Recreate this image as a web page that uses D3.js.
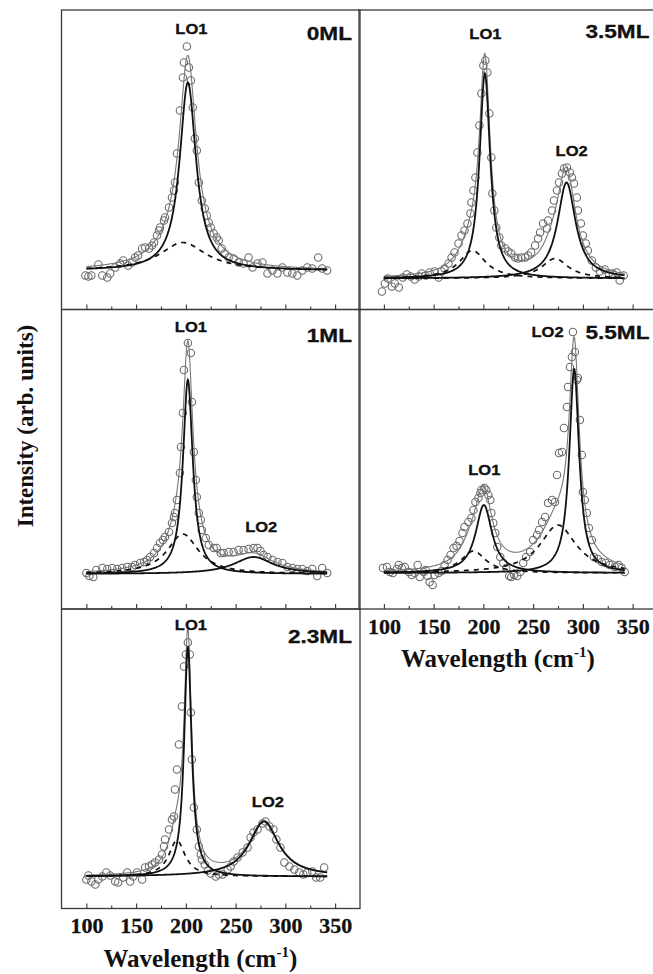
<!DOCTYPE html>
<html>
<head>
<meta charset="utf-8">
<script src="https://cdn.jsdelivr.net/npm/d3@7"></script>
<style>
  body { margin: 0; background: #fff; }
  svg { display: block; }
</style>
</head>
<body>
<div id="chart"></div>
<script>
// x axis ticks (cm-1)
const majorTicks = [100, 150, 200, 250, 300, 350];
const minorTicks = [125, 175, 225, 275, 325];

const samples = ["0ML", "1ML", "2.3ML", "3.5ML", "5.5ML"];

// measured Raman points, [wavenumber, intensity]
const pts0ML = [[99,34],[102,33],[105,34],[112,45],[116,34],[121,32],[124,36],[129,42],[134,46],[137,49],[142,44],[146,47],[149,52],[152,54],[156,61],[159,62],[163,61],[166,64],[168,67],[171,74],[173,79],[174,82],[178,89],[179,92],[183,102],[186,112],[188,119],[189,127],[191,156],[194,199],[197,232],[198,247],[201,263],[203,242],[205,229],[207,202],[209,171],[211,159],[213,127],[216,109],[219,101],[221,94],[223,87],[225,82],[228,76],[231,72],[233,69],[236,61],[239,56],[243,52],[248,51],[253,47],[258,46],[263,52],[267,42],[272,46],[277,47],[282,36],[287,39],[292,36],[297,42],[302,37],[307,36],[312,34],[317,39],[322,42],[327,41],[333,52],[337,41],[342,39]];

const pts1ML = [[100,36],[103,33],[107,32],[110,39],[116,41],[121,40],[126,41],[131,40],[136,41],[141,42],[146,42],[149,44],[154,46],[158,47],[161,49],[164,52],[168,56],[171,61],[174,66],[177,69],[179,72],[183,77],[186,86],[188,92],[189,96],[191,109],[194,136],[195,162],[197,196],[198,239],[202,266],[205,256],[206,207],[208,157],[210,129],[211,112],[213,96],[215,89],[216,79],[220,71],[223,64],[228,61],[231,61],[235,56],[238,56],[243,57],[248,57],[253,59],[258,59],[263,60],[268,61],[272,61],[275,58],[278,54],[282,52],[287,49],[292,47],[297,46],[302,42],[307,41],[312,40],[317,40],[322,38],[327,40],[332,33],[337,41],[342,36]];

const pts2_3ML = [[100,29],[102,33],[105,27],[109,24],[112,29],[116,32],[120,36],[124,33],[129,27],[132,26],[137,31],[141,36],[144,27],[147,32],[151,36],[156,29],[159,41],[163,42],[166,44],[169,46],[173,49],[176,54],[178,62],[179,69],[183,79],[186,89],[188,92],[189,119],[191,139],[193,164],[196,202],[198,242],[200,254],[202,266],[204,254],[205,196],[206,149],[208,101],[211,79],[213,62],[215,54],[216,49],[219,44],[222,38],[225,35],[230,32],[233,34],[237,34],[242,39],[245,42],[248,47],[252,51],[257,56],[262,61],[265,71],[268,76],[272,79],[277,85],[280,87],[284,82],[288,79],[291,69],[295,61],[299,46],[304,42],[309,39],[314,36],[318,34],[322,36],[327,37],[331,31],[335,31],[339,41]];

const pts3_5ML = [[98,18],[101,26],[104,31],[108,23],[111,26],[115,22],[119,32],[123,35],[127,33],[131,30],[135,33],[138,36],[142,34],[146,37],[151,38],[155,32],[158,38],[161,41],[165,46],[168,52],[171,57],[175,66],[178,74],[181,79],[184,86],[187,96],[188,107],[190,119],[192,132],[194,157],[196,184],[198,216],[200,244],[202,249],[204,237],[206,196],[208,152],[209,116],[211,99],[213,82],[216,72],[218,64],[222,61],[225,58],[228,56],[232,52],[235,51],[238,52],[242,52],[245,54],[248,57],[252,64],[255,71],[257,77],[260,86],[264,81],[265,89],[269,99],[271,109],[274,119],[276,127],[279,136],[281,141],[284,142],[287,137],[289,132],[291,126],[294,112],[295,99],[298,86],[300,74],[303,66],[305,59],[309,49],[313,42],[317,38],[322,40],[326,36],[330,36],[334,37],[337,29],[341,34]];

const pts5_5ML = [[99,41],[103,42],[106,37],[109,36],[113,40],[115,44],[118,41],[121,42],[125,37],[128,34],[131,36],[134,44],[136,32],[140,37],[142,39],[144,33],[146,27],[149,24],[151,34],[155,36],[158,38],[161,44],[164,49],[167,54],[170,61],[173,63],[176,68],[179,76],[181,82],[185,87],[188,91],[190,99],[192,107],[195,111],[197,116],[198,119],[201,121],[203,119],[205,114],[207,109],[208,96],[210,86],[212,76],[214,62],[217,52],[220,46],[223,41],[226,33],[228,32],[231,34],[234,33],[237,37],[240,46],[243,52],[247,57],[250,69],[254,74],[256,79],[259,87],[262,92],[265,106],[269,109],[272,107],[274,134],[276,156],[279,157],[281,181],[284,202],[285,222],[287,242],[289,252],[290,277],[292,257],[294,229],[295,231],[297,189],[299,154],[300,117],[302,109],[304,96],[306,81],[309,69],[311,52],[315,50],[319,47],[323,46],[327,44],[332,42],[336,44],[339,41],[342,37]];

// fitted peaks: [centre, half width, height above base]
const base0ML = 39, lo0ML = [[202, 10, 188]], so0ML = [[197, 28, 28]];
const base1ML = 35, lo1ML = [[202, 6, 194], [268, 24, 17]], so1ML = [[197, 19, 40]];
const base2_3ML = 32, lo2_3ML = [[202, 4.5, 230], [278.5, 18, 55]], so2_3ML = [[191, 10, 36]];
const base3_5ML = 31, lo3_5ML = [[201.5, 6.5, 205], [283.6, 11, 96]], so3_5ML = [[189, 16, 28], [272, 16, 20]];
const base5_5ML = 36, lo5_5ML = [[200.5, 10, 68], [291.3, 6, 204]], so5_5ML = [[190, 15, 22], [275, 22, 48]];

// peak names [text, wavenumber, intensity]
const names0ML = [["LO1", 205.5, 276]];
const names1ML = [["LO1", 205, 277], ["LO2", 275.7, 77]];
const names2_3ML = [["LO1", 205, 279], ["LO2", 282.4, 102]];
const names3_5ML = [["LO1", 202, 271], ["LO2", 288.7, 154]];
const names5_5ML = [["LO1", 200.9, 134], ["LO2", 264.5, 272]];

const panels = [
  { name: "0ML", pts: pts0ML, base: base0ML, lo: lo0ML, so: so0ML, names: names0ML },
  { name: "1ML", pts: pts1ML, base: base1ML, lo: lo1ML, so: so1ML, names: names1ML },
  { name: "2.3ML", pts: pts2_3ML, base: base2_3ML, lo: lo2_3ML, so: so2_3ML, names: names2_3ML },
  { name: "3.5ML", pts: pts3_5ML, base: base3_5ML, lo: lo3_5ML, so: so3_5ML, names: names3_5ML },
  { name: "5.5ML", pts: pts5_5ML, base: base5_5ML, lo: lo5_5ML, so: so5_5ML, names: names5_5ML }
];

// layout
const W = 653, H = 974;
const panelW = 298.5, panelH = 299.5;
const colLeft = [61.5, 359];
const rowTop = [10, 309.5, 609];
const grid = { "0ML": [0, 0], "1ML": [0, 1], "2.3ML": [0, 2], "3.5ML": [1, 0], "5.5ML": [1, 1] };
const tagY = { "0ML": 270, "1ML": 267.5, "2.3ML": 266, "3.5ML": 271.5, "5.5ML": 270.5 };
const withTicks = ["2.3ML", "5.5ML"];

const serif = "'Liberation Serif', 'Times New Roman', serif";
const sans = "'Liberation Sans', Arial, sans-serif";

const svg = d3.select("#chart").append("svg")
  .attr("width", W)
  .attr("height", H);

const lorentz = (v, p) => p[2] / (1 + ((v - p[0]) / p[1]) ** 2);
const xs = d3.range(100, 342.01, 0.5);

panels.forEach(p => {
  const [c, r] = grid[p.name];
  const x = d3.scaleLinear().domain([75, 375]).range([colLeft[c], colLeft[c] + panelW]);
  const y = d3.scaleLinear().domain([0, panelH]).range([rowTop[r] + panelH, rowTop[r]]);
  const line = d3.line().x(d => x(d[0])).y(d => y(d[1]));
  const g = svg.append("g");

  // data points
  g.selectAll("circle")
    .data(p.pts)
    .enter().append("circle")
    .attr("cx", d => x(d[0]))
    .attr("cy", d => y(d[1]))
    .attr("r", 3.7)
    .attr("fill", "none")
    .attr("stroke", "#6a6a6a")
    .attr("stroke-width", 1.1);

  // total fit
  const allPeaks = p.lo.concat(p.so);
  const total = xs.map(v => [v, p.base + d3.sum(allPeaks, pk => lorentz(v, pk))]);
  g.append("path")
    .attr("d", line(total))
    .attr("fill", "none")
    .attr("stroke", "#777")
    .attr("stroke-width", 1.1);

  // surface-like components (dashed)
  p.so.forEach(pk => {
    g.append("path")
      .attr("d", line(xs.map(v => [v, p.base + lorentz(v, pk)])))
      .attr("fill", "none")
      .attr("stroke", "#111")
      .attr("stroke-width", 1.7)
      .attr("stroke-dasharray", "5,5");
  });

  // LO components
  p.lo.forEach(pk => {
    g.append("path")
      .attr("d", line(xs.map(v => [v, p.base + lorentz(v, pk)])))
      .attr("fill", "none")
      .attr("stroke", "#111")
      .attr("stroke-width", 1.8);
  });

  // ticks
  const showLabels = withTicks.includes(p.name);
  const ax = d3.axisBottom(x)
    .tickValues(majorTicks)
    .tickSizeInner(-5)
    .tickSizeOuter(0)
    .tickPadding(9);
  if (!showLabels) ax.tickFormat("");
  g.append("g")
    .attr("transform", `translate(0,${y(0)})`)
    .call(ax)
    .call(s => s.select(".domain").remove())
    .call(s => s.selectAll("line").attr("stroke", "#333").attr("stroke-width", 1.1))
    .call(s => s.selectAll("text")
      .attr("font-family", serif)
      .attr("font-weight", "bold")
      .attr("font-size", 22)
      .attr("fill", "#111")
      .attr("stroke", "#111")
      .attr("stroke-width", 0.3));

  g.append("g")
    .attr("transform", `translate(0,${y(0)})`)
    .call(d3.axisBottom(x).tickValues(minorTicks).tickSizeInner(-3).tickSizeOuter(0).tickFormat(""))
    .call(s => s.select(".domain").remove())
    .call(s => s.selectAll("line").attr("stroke", "#333").attr("stroke-width", 1.1));

  if (showLabels) {
    const t = g.append("text")
      .attr("x", colLeft[c] + 42)
      .attr("y", y(0) + 58)
      .attr("font-family", serif)
      .attr("font-weight", "bold")
      .attr("font-size", 25)
      .attr("fill", "#111");
    t.append("tspan").text("Wavelength (cm");
    t.append("tspan").attr("font-size", 15).attr("dy", -10).text("-1");
    t.append("tspan").attr("dy", 10).text(")");
  }

  // peak names
  p.names.forEach(n => {
    g.append("text")
      .attr("transform", `translate(${x(n[1])},${y(n[2])}) scale(1.18,1)`)
      .attr("text-anchor", "middle")
      .attr("font-family", sans)
      .attr("font-weight", "bold")
      .attr("font-size", 14)
      .attr("fill", "#111")
      .attr("stroke", "#111")
      .attr("stroke-width", 0.3)
      .text(n[0]);
  });

  // sample label
  g.append("text")
    .attr("transform", `translate(${colLeft[c] + panelW - 8},${y(tagY[p.name])}) scale(1.19,1)`)
    .attr("text-anchor", "end")
    .attr("font-family", sans)
    .attr("font-weight", "bold")
    .attr("font-size", 19)
    .attr("fill", "#111")
    .attr("stroke", "#111")
    .attr("stroke-width", 0.3)
    .text(p.name);

  // frame
  g.append("rect")
    .attr("x", colLeft[c])
    .attr("y", rowTop[r])
    .attr("width", panelW)
    .attr("height", panelH)
    .attr("fill", "none")
    .attr("stroke", "#3a3a3a")
    .attr("stroke-width", 1.3);
});

// shared y label
svg.append("text")
  .attr("transform", "translate(33,426) rotate(-90)")
  .attr("text-anchor", "middle")
  .attr("font-family", serif)
  .attr("font-weight", "bold")
  .attr("font-size", 23)
  .attr("fill", "#111")
  .text("Intensity (arb. units)");
</script>
</body>
</html>
